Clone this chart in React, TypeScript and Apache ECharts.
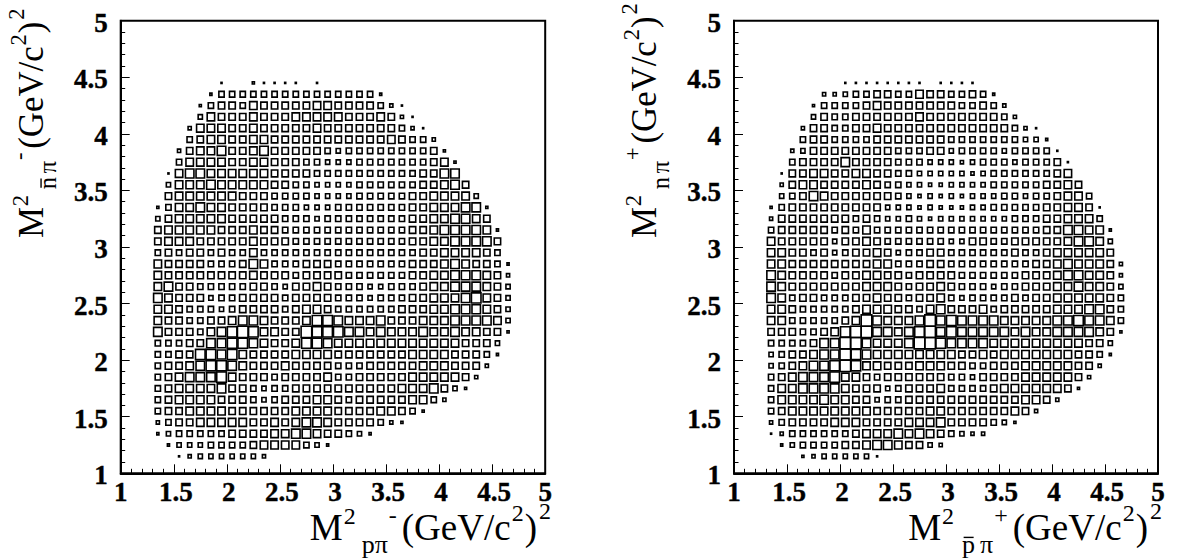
import React, { useEffect, useRef } from 'react';
import * as echarts from 'echarts';

// Axis tick values and labels (both axes, both panels)
const tickValues = [1, 1.5, 2, 2.5, 3, 3.5, 4, 4.5, 5];
const tickLabels = ['1', '1.5', '2', '2.5', '3', '3.5', '4', '4.5', '5'];

// Bin width 0.1 on both axes, bins from 1 to 5 (40 x 40).
// Each row j (y bin 1+0.1j .. 1+0.1(j+1)), j = 1..34, starts at x bin index rowStart[j-1].
// Characters are box sizes (hex digit, 'a' = 10 = full cell, 0 = empty).
const leftRowStart = [5, 4, 3, 3, 3, 3, 3, 3, 3, 3, 3, 3, 3, 3, 3, 3, 3, 3, 3, 3, 3, 3, 3, 4, 4, 4, 5, 5, 6, 6, 7, 7, 8, 9];
const leftRows = [
  '134444443',
  '2444555567777542',
  '245555566667788766542',
  '35667777766767887' + '6666532',
  '56677776666667777' + '666677652',
  '56777766654566677' + '65666667753',
  '56777786654556666' + '6666667778642',
  '56788897666566667' + '55666667777763',
  '56678998766676666' + '555666667776663',
  '55669989766667777' + '6666666777766652',
  '55566889987667998' + '7777777777776664',
  '86665789a97766a99' + '98878777877877662',
  '76655667887666799' + '87778666777888874',
  '77655545666656776' + '55555566677888764',
  '87666455666656666' + '55545556677789764',
  '78665555566546676' + '55544555677888764',
  '76666666676665666' + '65555556677888763',
  '76666555687555666' + '55555556667876652',
  '56566565575555555' + '5555555566777765',
  '67776666676665555' + '5555555667788886',
  '67777766676655555' + '5555555667888872',
  '46777776666655545' + '555555566778876',
  '25778776666555444' + '555555566777882',
  '6777777666555544' + '44555556677774',
  '4777877777665544' + '4455555566786',
  '1788777777666655' + '555555556688',
  '577776677666554' + '445555555672',
  '367786678666665' + '45555555562',
  '56776677666666' + '6666676553',
  '37776676666676' + '666666531',
  '4766676667777' + '76667631',
  '2566576666677' + '6666531',
  '255555555555' + '55552',
  '1002111101',
];

const rightRowStart = [6, 4, 3, 3, 3, 3, 3, 3, 3, 3, 3, 3, 3, 3, 3, 3, 3, 3, 3, 3, 3, 3, 3, 4, 4, 4, 5, 5, 6, 6, 7, 7, 8, 10];
const rightRows = [
  '23444441',
  '2455556678876643',
  '135555556777878765433',
  '35666677766667778' + '6666542',
  '56777777776666677' + '666666763',
  '57777877664556666' + '66666667763',
  '57788887666456667' + '5555677777762',
  '56788897765666666' + '55466667777763',
  '4567889a977666777' + '665566677777663',
  '4566788a987777777' + '7667677777776652',
  '5555688aa87778aa9' + '8888777777777664',
  '66655679aa88789a8' + '98888878778888762',
  '775555567a87778a8' + '98888777778898875',
  '77655555677766578' + '66675666667778865',
  '87566555667665667' + '54555565667777765',
  '87666666677765667' + '65554556667787764',
  '87666656677665666' + '65555556667887763',
  '77666666667755566' + '55555555667877763',
  '77665645667645566' + '5555556556777776',
  '76666646676555555' + '4466556666678874',
  '56666656575555555' + '5555555556688772',
  '36666666565445434' + '444444555667775',
  '25666666666444343' + '334455555667761',
  '4568766666654343' + '43444554556775',
  '3677666676554433' + '4444555556676',
  '1667766776655444' + '443455555567',
  '566668666655544' + '434555455561',
  '346666666655566' + '45555455551',
  '56655556666666' + '5555555442',
  '36655667666666' + '666666531',
  '4655666666766' + '6666653',
  '2555567666666' + '655653',
  '334556655766' + '55652',
  '1111111101111',
];

const BIN = 0.1;
const AXMIN = 1;

function toCells(starts: number[], rows: string[]) {
  const out: number[][] = [];
  rows.forEach((row, k) => {
    const j = k + 1;
    for (let n = 0; n < row.length; n++) {
      const v = parseInt(row[n], 16);
      if (!v) continue;
      const i = starts[k] + n;
      out.push([
        +(AXMIN + BIN * i + BIN / 2).toFixed(3),
        +(AXMIN + BIN * j + BIN / 2).toFixed(3),
        v,
      ]);
    }
  });
  return out;
}

const FONT = 'Liberation Serif';

let measureCtx: CanvasRenderingContext2D | null = null;
function measure(text: string, size: number) {
  if (!measureCtx) measureCtx = document.createElement('canvas').getContext('2d');
  if (!measureCtx) return text.length * size * 0.5;
  measureCtx.font = `${size}px "${FONT}"`;
  return measureCtx.measureText(text).width;
}

type Piece = { t: string; s: number; dy?: number; gap?: number; bar?: boolean };

function titleElements(pieces: Piece[], scale: number) {
  let cur = 0;
  const els: any[] = [];
  for (const p0 of pieces) {
    const p = { ...p0, s: p0.s * scale, dy: (p0.dy || 0) * scale, gap: (p0.gap || 0) * scale };
    cur += p.gap;
    const w = measure(p.t, p.s);
    els.push({
      type: 'text',
      style: {
        text: p.t,
        x: cur,
        y: p.dy - 0.3375 * p.s,
        fontSize: p.s,
        fontFamily: FONT,
        lineHeight: Math.round(p.s * 0.72),
        fill: '#000',
        textAlign: 'left',
        textVerticalAlign: 'middle',
        verticalAlign: 'middle',
      },
    });
    if (p.bar) {
      const yb = p.dy - 0.6 * p.s;
      els.push({
        type: 'line',
        shape: { x1: cur + 1.5, y1: yb, x2: cur + w - 1.5, y2: yb },
        style: { stroke: '#000', lineWidth: 1.4 },
      });
    }
    cur += w;
  }
  return { els, width: cur };
}

const BIG = 37;
const SUP = 24;
const SUB = 26;

const leftXTitle: Piece[] = [
  { t: 'M', s: BIG },
  { t: '2', s: SUP, dy: -16, gap: 1 },
  { t: 'pπ', s: SUB, dy: 13, gap: 6 },
  { t: '-', s: SUP, dy: -17, gap: 1 },
  { t: '(GeV/c', s: BIG, gap: 5 },
  { t: '2', s: SUP, dy: -19, gap: 1 },
  { t: ')', s: BIG, gap: 1 },
  { t: '2', s: SUP, dy: -21, gap: 2 },
];
const rightXTitle: Piece[] = [
  { t: 'M', s: BIG },
  { t: '2', s: SUP, dy: -16, gap: 1 },
  { t: 'p', s: SUB, dy: 13, gap: 8, bar: true },
  { t: 'π', s: SUB, dy: 13, gap: 5 },
  { t: '+', s: SUP, dy: -17, gap: 1 },
  { t: '(GeV/c', s: BIG, gap: 5 },
  { t: '2', s: SUP, dy: -19, gap: 1 },
  { t: ')', s: BIG, gap: 1 },
  { t: '2', s: SUP, dy: -21, gap: 2 },
];
const leftYTitle: Piece[] = [
  { t: 'M', s: BIG },
  { t: '2', s: SUP, dy: -16, gap: 1 },
  { t: 'n', s: SUB, dy: 13, gap: 6, bar: true },
  { t: 'π', s: SUB, dy: 13, gap: 4 },
  { t: '-', s: SUP, dy: -17, gap: 1 },
  { t: '(GeV/c', s: BIG, gap: 4 },
  { t: '2', s: SUP, dy: -19, gap: 1 },
  { t: ')', s: BIG, gap: 1 },
  { t: '2', s: SUP, dy: -21, gap: 2 },
];
const rightYTitle: Piece[] = [
  { t: 'M', s: BIG },
  { t: '2', s: SUP, dy: -16, gap: 1 },
  { t: 'n', s: SUB, dy: 13, gap: 6 },
  { t: 'π', s: SUB, dy: 13, gap: 4 },
  { t: '+', s: SUP, dy: -17, gap: 1 },
  { t: '(GeV/c', s: BIG, gap: 4 },
  { t: '2', s: SUP, dy: -19, gap: 1 },
  { t: ')', s: BIG, gap: 1 },
  { t: '2', s: SUP, dy: -21, gap: 2 },
];

const PANELS = [
  { left: 120.7, top: 20.7, width: 424.5, height: 452.6 },
  { left: 734, top: 20.7, width: 424, height: 452.6 },
];

const LABEL_SIZE = 27;

function axisCommon(gridIndex: number) {
  return {
    gridIndex,
    type: 'value',
    min: 1,
    max: 5,
    interval: 0.5,
    axisLine: { show: true, onZero: false, lineStyle: { color: '#000', width: 2 } },
    axisTick: { show: true, inside: true, length: 9, lineStyle: { color: '#000', width: 1 } },
    minorTick: { show: true, splitNumber: 5, length: 4.5, lineStyle: { color: '#000', width: 1 } },
    splitLine: { show: false },
    minorSplitLine: { show: false },
    axisLabel: { show: false },
  };
}

function renderBox(params: any, api: any) {
  const c = api.coord([api.value(0), api.value(1)]);
  const s = api.size([BIN, BIN]);
  const f = api.value(2) / 10;
  const w = s[0] * f;
  const h = s[1] * f;
  return {
    type: 'rect',
    shape: { x: c[0] - w / 2, y: c[1] - h / 2, width: w, height: h },
    style: { fill: 'none', stroke: '#000', lineWidth: 1.6 },
  };
}

function tickLabel(text: string, x: number, y: number, align: string) {
  return {
    type: 'text',
    style: {
      text,
      x,
      y,
      fontSize: LABEL_SIZE,
      fontWeight: 'bold',
      fontFamily: FONT,
      lineHeight: 19,
      fill: '#000',
      stroke: '#000',
      lineWidth: 0.4,
      textAlign: align,
      textVerticalAlign: 'middle',
      verticalAlign: 'middle',
    },
  };
}

export default function App() {
  const ref = useRef<HTMLDivElement>(null);
  useEffect(() => {
    if (!ref.current) return;
    const chart = echarts.init(ref.current, null, { renderer: 'svg' });

    const option: any = {
      animation: false,
      backgroundColor: '#fff',
      grid: PANELS.map((p) => ({
        ...p,
        show: true,
        borderColor: '#000',
        borderWidth: 2,
        backgroundColor: 'transparent',
        containLabel: false,
      })),
      xAxis: [axisCommon(0), axisCommon(1)],
      yAxis: [axisCommon(0), axisCommon(1)],
      series: [
        {
          type: 'custom',
          xAxisIndex: 0,
          yAxisIndex: 0,
          data: toCells(leftRowStart, leftRows),
          renderItem: renderBox,
          encode: { x: 0, y: 1 },
        },
        {
          type: 'custom',
          xAxisIndex: 1,
          yAxisIndex: 1,
          data: toCells(rightRowStart, rightRows),
          renderItem: renderBox,
          encode: { x: 0, y: 1 },
        },
      ],
    };
    chart.setOption(option);

    const lx = titleElements(leftXTitle, 1);
    const rx = titleElements(rightXTitle, 1);
    const ly = titleElements(leftYTitle, 0.94);
    const ry = titleElements(rightYTitle, 0.94);

    const labels: any[] = [];
    [0, 1].forEach((g) => {
      tickValues.forEach((v, k) => {
        const px = chart.convertToPixel({ gridIndex: g } as any, [v, AXMIN]) as number[];
        labels.push(tickLabel(tickLabels[k], px[0] + (k > 0 && k < 8 ? 2 : 0), px[1] + 19, 'center'));
        const py = chart.convertToPixel({ gridIndex: g } as any, [AXMIN, v]) as number[];
        labels.push(tickLabel(tickLabels[k], py[0] - 13, py[1] + 2, 'right'));
      });
    });

    chart.setOption({
      graphic: [
        { type: 'group', x: 551 - lx.width, y: 540, children: lx.els },
        { type: 'group', x: 1162 - rx.width, y: 540, children: rx.els },
        { type: 'group', x: 43.5, y: 238, rotation: Math.PI / 2, children: ly.els },
        { type: 'group', x: 656.5, y: 238, rotation: Math.PI / 2, children: ry.els },
        ...labels,
      ],
    });
    return () => chart.dispose();
  }, []);
  return (
    <div
      ref={ref}
      style={{ position: 'absolute', left: 0, top: 0, width: 1178, height: 560, background: '#fff' }}
    />
  );
}
